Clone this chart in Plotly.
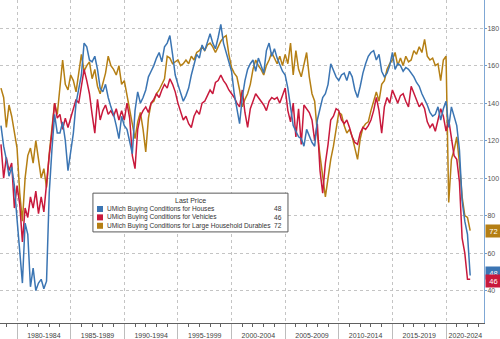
import numpy as np
import plotly.graph_objects as go

# quarterly sample times (decimal years)
years = np.arange(1978.5, 2022.26, 0.25)

houses = [
    128, 117,
    110, 101, 106, 96,
    78, 60, 44, 76,
    70, 42, 52, 40,
    44, 46, 41, 45,
    92, 115, 134, 124,
    124, 130, 120, 104,
    114, 124, 140, 147,
    155, 172, 170, 163,
    162, 165, 158, 148,
    146, 150, 143, 138,
    134, 128, 121, 133,
    128, 126, 120, 113,
    136, 146, 140, 143,
    147, 154, 157, 160,
    164, 167, 162, 170,
    172, 176, 166, 155,
    150, 146, 141, 144,
    148, 155, 160, 166,
    164, 171, 168, 173,
    177, 172, 169, 175,
    182, 172, 167, 163,
    157, 145, 137, 129,
    143, 152, 158, 161,
    163, 157, 164, 160,
    156, 168, 172, 165,
    169, 164, 160, 157,
    155, 148, 138, 128,
    125, 122, 121, 117,
    126, 122, 119, 117,
    131, 137, 143, 145,
    150, 161, 157, 154,
    152, 155, 156, 152,
    157, 154, 147, 143,
    149, 156, 161, 165,
    167, 168, 163, 166,
    157, 154, 156, 160,
    167, 158, 161, 160,
    157, 159, 158, 156,
    154, 151, 149, 145,
    142, 139, 135, 133,
    134, 138, 131, 137,
    141, 127, 138, 133,
    128, 115, 88, 77,
    70, 48,
]

vehicles = [
    118, 100,
    111, 104, 108, 84,
    96, 86, 66, 84,
    79, 90, 84, 93,
    81, 90, 82, 98,
    112, 124, 140, 132,
    134, 126, 132, 127,
    132, 136, 142, 140,
    150, 158, 152, 145,
    134, 124, 142, 131,
    136, 139, 134, 136,
    133, 137, 131, 136,
    131, 140, 132, 112,
    105, 126, 133, 136,
    138, 135, 140, 142,
    145, 143, 147, 150,
    148, 153, 150, 146,
    140, 135, 131, 133,
    129, 127, 133, 136,
    134, 140, 141, 144,
    147, 145, 151, 152,
    155, 152, 150, 147,
    145, 143, 140, 138,
    147, 135, 127, 137,
    141, 145, 143, 141,
    139, 136, 141, 143,
    142, 143, 140, 144,
    148, 136, 130, 140,
    122, 137, 118, 139,
    137, 135, 131, 120,
    129, 104, 92, 108,
    118, 131, 133, 137,
    136, 131, 129, 131,
    127, 122, 119, 118,
    124, 127, 126, 128,
    131, 136, 143, 136,
    124, 138, 143, 140,
    147, 143, 140, 144,
    145, 141, 138, 149,
    145, 142, 138, 140,
    137, 130, 127, 129,
    125, 131, 137, 133,
    125, 131, 120, 112,
    110, 98, 68, 60,
    46, 46,
]

durables = [
    148, 143,
    127, 139, 133, 125,
    116, 92, 77, 100,
    112, 116, 108, 120,
    110, 100, 105, 95,
    113, 128, 140, 134,
    148, 163, 150, 147,
    155, 152, 146, 156,
    166, 157, 160, 162,
    153, 158, 149, 145,
    150, 156, 165, 160,
    158, 155, 160, 150,
    152, 144, 136, 128,
    121, 130, 135, 126,
    114, 132, 140, 141,
    145, 147, 150, 153,
    165, 164, 161, 162,
    163, 160, 161, 163,
    161, 165, 163, 167,
    168, 170, 168, 171,
    172, 170, 167, 170,
    173, 175, 176, 166,
    159, 156, 154, 147,
    138, 142, 145, 150,
    158, 163, 160, 158,
    155, 160, 163, 167,
    164, 161, 165, 160,
    166, 161, 172, 155,
    168, 158, 154, 160,
    167, 154, 145, 141,
    124, 112, 100, 90,
    100, 110, 117, 125,
    135, 134, 128, 124,
    126, 122, 116, 110,
    121, 127, 129, 130,
    136, 141, 146, 141,
    150, 152, 158, 161,
    163, 167, 160, 164,
    160, 165, 162, 163,
    168, 166, 170, 167,
    174, 165, 163, 164,
    160, 161, 152, 163,
    165, 87, 110, 115,
    122, 108, 90, 80,
    79, 72,
]

series_names = [
    "UMich Buying Conditions for Houses",
    "UMich Buying Conditions for Vehicles",
    "UMich Buying Conditions for Large Household Durables",
]
series_colors = ["#3b75b3", "#c8193c", "#b57f14"]

separator_years = [1980, 1985, 1990, 1995, 2000, 2005, 2010, 2015, 2020]
period_labels = ["1980-1984", "1985-1989", "1990-1994", "1995-1999", "2000-2004",
                 "2005-2009", "2010-2014", "2015-2019", "2020-2024"]
label_centers = [1982.5, 1987.5, 1992.5, 1997.5, 2002.5, 2007.5, 2012.5, 2017.5, 2021.8]
year_ticks = list(range(1979, 2024))
y_ticks = [40, 60, 80, 100, 120, 140, 160, 180]

FONT = "Liberation Sans"

fig = go.Figure()
data = [houses, vehicles, durables]
for idx in [2, 1, 0]:
    fig.add_trace(go.Scatter(
        x=years, y=data[idx], mode="lines", name=series_names[idx],
        line=dict(color=series_colors[idx], width=1.5), showlegend=False,
    ))
# empty trace to activate overlay axis for period labels
fig.add_trace(go.Scatter(x=[], y=[], xaxis="x2", showlegend=False))

grid_col = "#c4c4c4"

fig.update_layout(
    template="none",
    width=500, height=339,
    margin=dict(l=0, r=16, t=0, b=16, pad=0),
    paper_bgcolor="white", plot_bgcolor="white",
    font=dict(family=FONT, size=7, color="#444"),
    showlegend=False,
    xaxis=dict(
        range=[1978.41, 2023.54], automargin=False,
        tickmode="array", tickvals=separator_years, showticklabels=False,
        ticks="outside", ticklen=16, tickcolor="#bdbdbd", tickwidth=1,
        showgrid=True, gridcolor=grid_col, griddash="dot", gridwidth=1,
        showline=True, linecolor="#606060", linewidth=1, zeroline=False,
        minor=dict(tickvals=year_ticks, ticks="outside", ticklen=3,
                   tickcolor="#606060", tickwidth=1, showgrid=False),
    ),
    xaxis2=dict(
        overlaying="x", matches="x", anchor="y", side="bottom",
        tickmode="array", tickvals=label_centers, ticktext=period_labels,
        ticks="", showgrid=False, showline=False, zeroline=False,
        automargin=False, tickfont=dict(family=FONT, size=7, color="#444"),
        ticklabelstandoff=7,
    ),
    yaxis=dict(
        side="right", range=[22.7, 195], automargin=False,
        tickmode="array", tickvals=y_ticks,
        ticks="outside", ticklen=2, tickcolor="#6f9bcc", tickwidth=1,
        showline=True, linecolor="#7fa7d4", linewidth=1,
        showgrid=True, gridcolor=grid_col, griddash="dot", gridwidth=1,
        zeroline=False, tickfont=dict(family=FONT, size=7, color="#555"),
        ticklabelstandoff=-1,
    ),
)

# legend box
lx0, lx1, ly0, ly1 = 0.192, 0.595, 0.282, 0.402
fig.add_shape(type="rect", xref="paper", yref="paper", x0=lx0, x1=lx1, y0=ly0, y1=ly1,
              line=dict(color="#5a5a5a", width=1), fillcolor="white", layer="above")
fig.add_annotation(xref="paper", yref="paper", x=0.3926, y=0.379, text="Last Price",
                   showarrow=False, font=dict(family=FONT, size=7, color="#333"),
                   xanchor="center", yanchor="middle")
row_y = [0.353, 0.327, 0.301]
last_vals = [houses[-1], vehicles[-1], durables[-1]]
for i in range(3):
    fig.add_shape(type="rect", xref="paper", yref="paper",
                  x0=0.2004, x1=0.2128, y0=row_y[i] - 0.0093, y1=row_y[i] + 0.0093,
                  line=dict(width=0), fillcolor=series_colors[i], layer="above")
    fig.add_annotation(xref="paper", yref="paper", x=0.217, y=row_y[i], text=series_names[i],
                       showarrow=False, font=dict(family=FONT, size=6.6, color="#333"),
                       xanchor="left", yanchor="middle")
    fig.add_annotation(xref="paper", yref="paper", x=0.5868, y=row_y[i], text=str(last_vals[i]),
                       showarrow=False, font=dict(family=FONT, size=6.6, color="#333"),
                       xanchor="right", yanchor="middle")

# last value tags on right axis (vehicles drawn last, slightly below houses as in the source)
tag_shift = {2: 0, 0: 3, 1: -2}
for i in [2, 0, 1]:
    fig.add_annotation(xref="paper", yref="y", x=1, xshift=1, y=last_vals[i],
                       yshift=tag_shift[i],
                       text=str(last_vals[i]), showarrow=False,
                       font=dict(family=FONT, size=7.5, color="white"),
                       bgcolor=series_colors[i], xanchor="left", yanchor="middle",
                       width=13, height=10, borderpad=1)

fig.write_html("out.html")
